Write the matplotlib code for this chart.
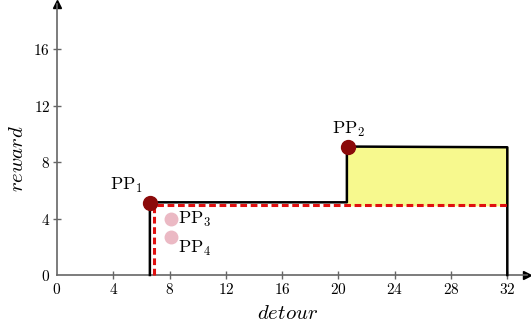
import matplotlib.pyplot as plt

plt.rcParams['font.family'] = 'serif'
plt.rcParams['font.serif'] = ['cmr10']
plt.rcParams['mathtext.fontset'] = 'cm'
plt.rcParams['axes.formatter.use_mathtext'] = True

# Reward as a function of detour for the chosen pick-up points
step_x = [6.6, 6.6, 20.6, 20.6, 32, 32]
step_y = [0, 5.15, 5.15, 9.1, 9.05, 0]

base_x = [6.9, 6.9, 32]
base_y = [0, 4.95, 4.95]

gain_x = [20.6, 32]
gain_top = [9.1, 9.05]
gain_bottom = [4.95, 4.95]

pp_names = ['PP$_1$', 'PP$_2$', 'PP$_3$', 'PP$_4$']
pp_x = [6.6, 20.7, 8.1, 8.1]
pp_y = [5.1, 9.1, 3.95, 2.7]

xticks = [0, 4, 8, 12, 16, 20, 24, 28, 32]
yticks = [0, 4, 8, 12, 16]

fig = plt.figure(figsize=(5.31, 3.25), dpi=100)
ax = fig.add_axes([57 / 531, 50 / 325, 470 / 531, 271 / 325])
ax.set_xlim(0, 33.4)
ax.set_ylim(0, 19.2)

ax.fill_between(gain_x, gain_bottom, gain_top, color='#f7f98e', zorder=1)
ax.plot(step_x, step_y, color='black', lw=1.8, zorder=3, clip_on=False)
ax.plot(base_x, base_y, color='#e01010', lw=2.2, ls=(0, (2.2, 1.2)),
        zorder=4, clip_on=False)

ax.plot(pp_x[:2], pp_y[:2], 'o', color='#8b0a0a', ms=10, zorder=5)
ax.plot(pp_x[2:], pp_y[2:], 'o', color='#ebb9c4', ms=9, zorder=5)

ax.text(pp_x[0] - 0.5, pp_y[0] + 0.55, pp_names[0], fontsize=13,
        ha='right', va='bottom')
ax.text(pp_x[1], pp_y[1] + 0.55, pp_names[1], fontsize=13,
        ha='center', va='bottom')
ax.text(pp_x[2] + 0.5, pp_y[2], pp_names[2], fontsize=13,
        ha='left', va='center')
ax.text(pp_x[3] + 0.5, pp_y[3] - 0.8, pp_names[3], fontsize=13,
        ha='left', va='center')

for side in ['top', 'right']:
    ax.spines[side].set_visible(False)
for side in ['left', 'bottom']:
    ax.spines[side].set_color('#666666')
    ax.spines[side].set_linewidth(1.2)

# arrow heads at the ends of the axes
ax.plot(1, 0, '>', color='black', ms=6, transform=ax.transAxes, clip_on=False)
ax.plot(0, 1, '^', color='black', ms=6, transform=ax.transAxes, clip_on=False)

ax.set_xticks(xticks)
ax.set_yticks(yticks)
ax.tick_params(direction='inout', length=6, width=1, color='#666666',
               labelsize=11, pad=2)
# no tick mark at the origin
ax.xaxis.get_major_ticks()[0].tick1line.set_visible(False)
ax.yaxis.get_major_ticks()[0].tick1line.set_visible(False)

ax.set_xlabel('$detour$', fontsize=15)
ax.set_ylabel('$reward$', fontsize=15)
ax.xaxis.set_label_coords(0.49, -0.11)
ax.yaxis.set_label_coords(-0.063, 0.43)

fig.savefig('out.png', dpi=100)
